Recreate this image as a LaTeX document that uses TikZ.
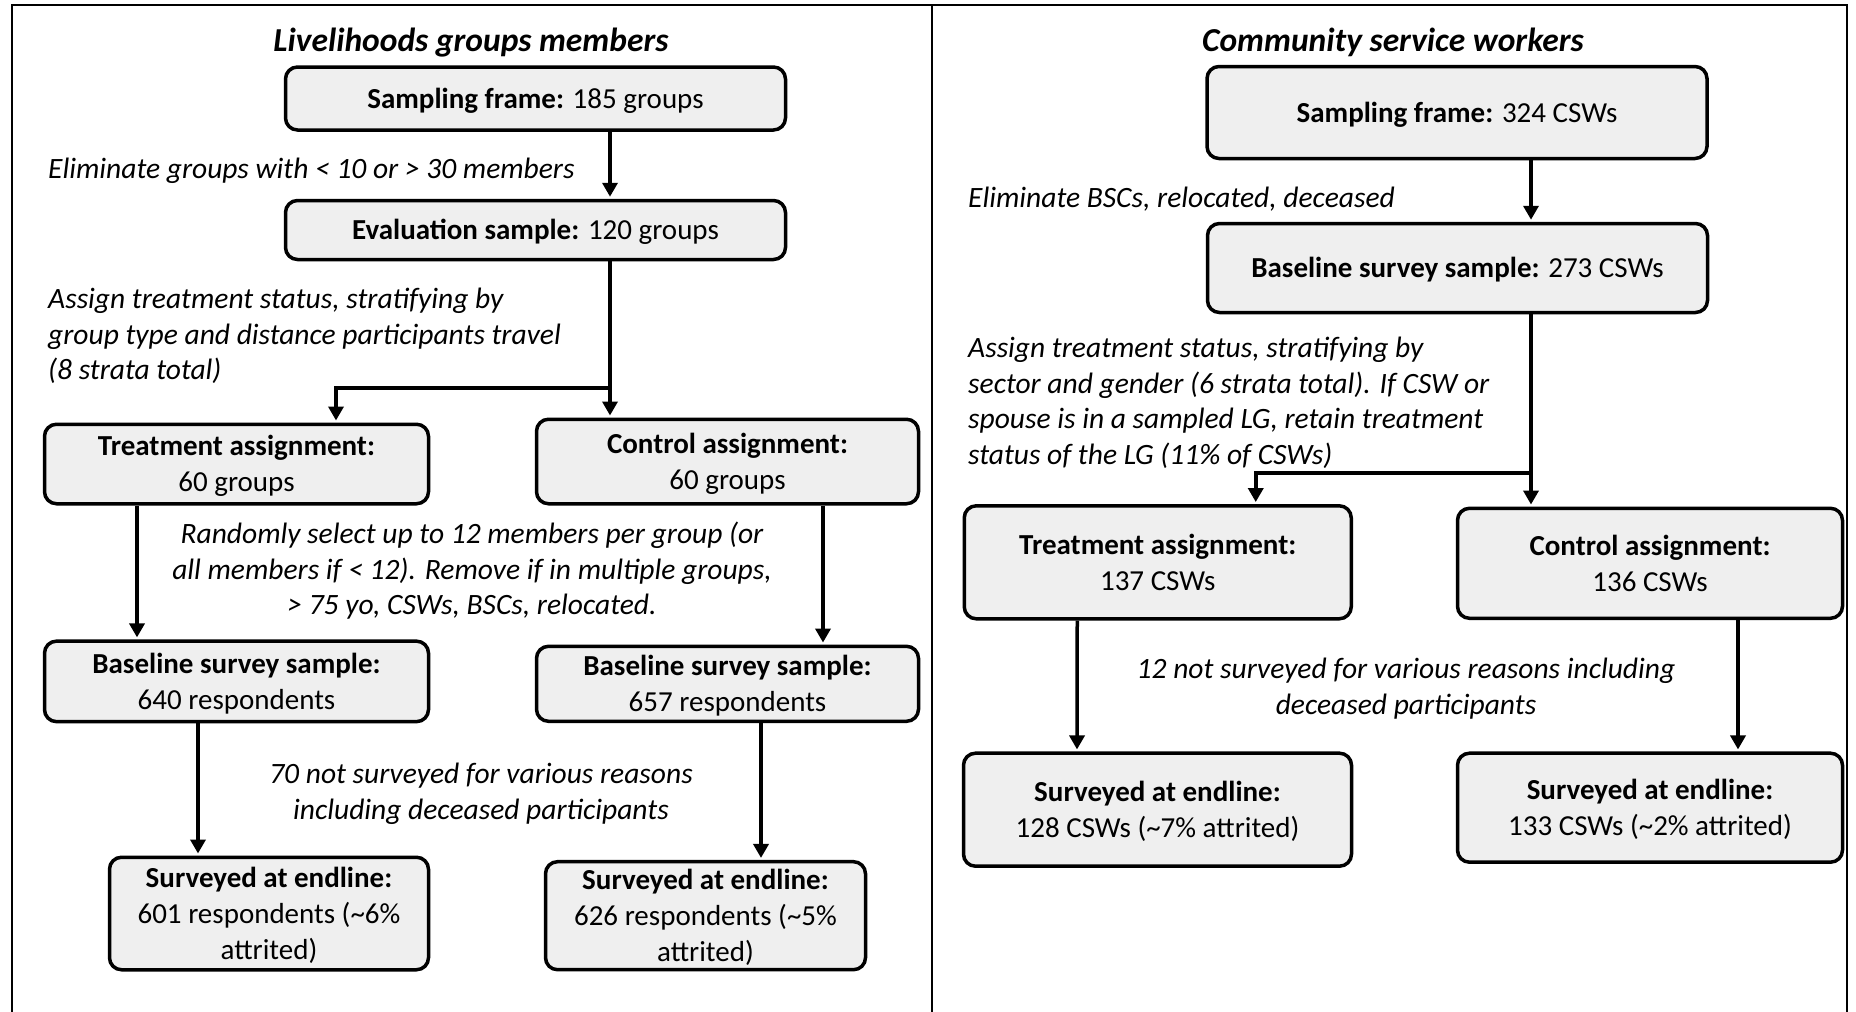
\documentclass[tikz,border=0pt]{standalone}
\usepackage{fontspec}
\setmainfont{Carlito}
\usetikzlibrary{arrows.meta}
\definecolor{boxgray}{HTML}{EFEFEF}
\newcommand\bt[1]{\raisebox{-2.5pt}[\height][\depth]{\begin{tabular}{@{}c@{}}#1\end{tabular}}}
\tikzset{
 box/.style={draw, line width=3.5pt, rounded corners=12pt, fill=boxgray, inner sep=0pt, font=\fontsize{29}{36}\selectfont},
 arr/.style={line width=3.5pt, -{Triangle[width=15pt,length=14pt]}, shorten >=2pt},
 lbl/.style={inner sep=0pt, font=\fontsize{29.5}{35.5}\selectfont\itshape},
 ttl/.style={inner sep=0pt, font=\fontsize{33.5}{40}\selectfont\bfseries\itshape},
 frame/.style={line width=2.4pt},
}
\begin{document}
\begin{tikzpicture}[x=1pt,y=-1pt]
\useasboundingbox (0,0) rectangle (1856,1012);
% frame
\draw[frame] (12,1012) -- (12,5) -- (1847,5) -- (1847,1012);
\draw[frame] (932,5) -- (932,1012);
% titles
\node[ttl] (T1) at (471,42.5) {Livelihoods groups members};
\node[ttl] (T2) at (1393,42.5) {Community service workers};
% left boxes
\node[box, minimum width=500pt, minimum height=63pt] (L1) at (535.5,98.5) {\bt{\textbf{Sampling frame:} 185 groups}};
\node[box, minimum width=500pt, minimum height=59pt] (L2) at (535.5,230) {\bt{\textbf{Evaluation sample:} 120 groups}};
\node[box, minimum width=384pt, minimum height=79.5pt] (L3) at (236.5,464) {\bt{\textbf{Treatment assignment:}\\60 groups}};
\node[box, minimum width=382pt, minimum height=84.5pt] (L4) at (727.5,461.5) {\bt{\textbf{Control assignment:}\\60 groups}};
\node[box, minimum width=384pt, minimum height=80.5pt] (L5) at (236.5,681.4) {\bt{\textbf{Baseline survey sample:}\\640 respondents}};
\node[box, minimum width=382pt, minimum height=75pt] (L6) at (727.5,683.8) {\bt{\textbf{Baseline survey sample:}\\657 respondents}};
\node[box, minimum width=319pt, minimum height=112.5pt] (L7) at (269,913.5) {\bt{\textbf{Surveyed at endline:}\\601 respondents (\textasciitilde6\%\\attrited)}};
\node[box, minimum width=320pt, minimum height=108pt] (L8) at (705.5,915.7) {\bt{\textbf{Surveyed at endline:}\\626 respondents (\textasciitilde5\%\\attrited)}};
% right boxes
\node[box, minimum width=500pt, minimum height=92pt] (R1) at (1457,112.5) {\bt{\textbf{Sampling frame:} 324 CSWs}};
\node[box, minimum width=500pt, minimum height=89pt] (R2) at (1457.5,268) {\bt{\textbf{Baseline survey sample:} 273 CSWs}};
\node[box, minimum width=387pt, minimum height=113pt] (R3) at (1157.75,562.3) {\bt{\textbf{Treatment assignment:}\\137 CSWs}};
\node[box, minimum width=385pt, minimum height=110pt] (R4) at (1650,563.3) {\bt{\textbf{Control assignment:}\\136 CSWs}};
\node[box, minimum width=388pt, minimum height=113pt] (R5) at (1157.5,809.7) {\bt{\textbf{Surveyed at endline:}\\128 CSWs (\textasciitilde7\% attrited)}};
\node[box, minimum width=385pt, minimum height=109pt] (R6) at (1650,807.7) {\bt{\textbf{Surveyed at endline:}\\133 CSWs (\textasciitilde2\% attrited)}};
% labels
\node[lbl, anchor=west] (t1) at (48,171) {Eliminate groups with < 10 or > 30 members};
\node[lbl, anchor=west, align=left] (t2) at (48,336) {Assign treatment status, stratifying by\\group type and distance participants travel\\(8 strata total)};
\node[lbl, align=center] (t3) at (472,571) {Randomly select up to 12 members per group (or\\all members if < 12). Remove if in multiple groups,\\> 75 yo, CSWs, BSCs, relocated.};
\node[lbl, align=center] (t4) at (481,794) {70 not surveyed for various reasons\\including deceased participants};
\node[lbl, anchor=west] (u1) at (968,199.5) {Eliminate BSCs, relocated, deceased};
\node[lbl, anchor=west, align=left] (u2) at (968,403) {Assign treatment status, stratifying by\\sector and gender (6 strata total). If CSW or\\spouse is in a sampled LG, retain treatment\\status of the LG (11\% of CSWs)};
\node[lbl, align=center] (u3) at (1406,688.5) {12 not surveyed for various reasons including\\deceased participants};
% connectors left
\coordinate (jL) at (610,388);
\draw[arr] (L1.south -| jL) -- (L2.north -| jL);
\draw[arr] (L2.south -| jL) -- (L4.north -| jL);
\draw[arr] (jL) -| ([xshift=99.5pt]L3.north);
\draw[arr] ([xshift=-99.5pt]L3.south) -- ([xshift=-99.5pt]L5.north);
\draw[arr] ([xshift=95.5pt]L4.south) -- ([xshift=95.5pt]L6.north);
\draw[arr] ([xshift=-38.5pt]L5.south) -- ([xshift=-71pt]L7.north);
\draw[arr] ([xshift=33.5pt]L6.south) -- ([xshift=55.5pt]L8.north);
% connectors right
\coordinate (jR) at (1531,473);
\draw[arr] (R1.south -| jR) -- (R2.north -| jR);
\draw[arr] (R2.south -| jR) -- (R4.north -| jR);
\draw[arr] (jR) -| ([xshift=98pt]R3.north);
\draw[arr] ([xshift=-80.5pt]R3.south) -- ([xshift=-80.5pt]R5.north);
\draw[arr] ([xshift=88pt]R4.south) -- ([xshift=88pt]R6.north);
\end{tikzpicture}
\end{document}
